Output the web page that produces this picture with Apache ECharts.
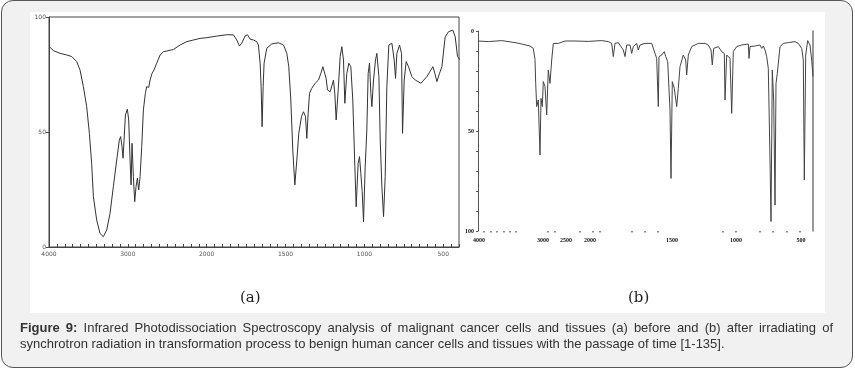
<!DOCTYPE html>
<html><head><meta charset="utf-8">
<script src="https://cdn.jsdelivr.net/npm/echarts@6/dist/echarts.min.js"></script>
<style>
html,body{margin:0;padding:0;width:855px;height:370px;overflow:hidden;background:#fff;}
#frame{position:absolute;left:1px;top:0;width:850px;height:366px;border:1.5px solid #555;border-radius:12px;background:#f1f1f1;}
#white{position:absolute;left:30px;top:12px;width:795px;height:301px;background:#fff;}
#chart{position:absolute;left:0;top:0;width:855px;height:370px;}
#cap{position:absolute;left:20px;top:320px;width:813px;font-family:"Liberation Sans",Arial,sans-serif;font-size:13px;line-height:16px;color:#333;}
.l1{text-align:justify;text-align-last:justify;white-space:nowrap;}
.l2{white-space:nowrap;}
</style></head>
<body>
<div id="frame"></div>
<div id="white"></div>
<div id="chart"></div>
<div id="cap">
<div class="l1"><b>Figure 9:</b> Infrared Photodissociation Spectroscopy analysis of malignant cancer cells and tissues (a) before and (b) after irradiating of</div>
<div class="l2">synchrotron radiation in transformation process to benign human cancer cells and tissues with the passage of time [1-135].</div>
</div>
<script>
// Panel (a): x in tick-step units (0 = first label), y = transmittance %
const A_XLABELS = ["4000", "3000", "2000", "1500", "1000", "500"];
const A_YLABELS = ["0", "50", "100"];
const A_POS = [0.004,0.055,0.14,0.224,0.288,0.351,0.393,0.436,0.478,0.512,0.541,0.563,0.605,0.647,0.689,0.732,0.774,0.816,0.859,0.892,0.909,0.926,0.939,0.952,0.969,0.994,1.011,1.028,1.041,1.053,1.070,1.087,1.104,1.121,1.138,1.155,1.176,1.197,1.222,1.239,1.265,1.282,1.307,1.332,1.366,1.409,1.451,1.493,1.578,1.662,1.747,1.832,1.916,2.001,2.128,2.255,2.339,2.382,2.415,2.445,2.487,2.517,2.551,2.593,2.635,2.656,2.678,2.690,2.703,2.716,2.728,2.762,2.826,2.910,2.974,3.016,3.041,3.067,3.092,3.118,3.143,3.168,3.202,3.228,3.253,3.270,3.287,3.304,3.333,3.376,3.418,3.448,3.473,3.498,3.515,3.532,3.566,3.591,3.608,3.625,3.642,3.668,3.693,3.714,3.735,3.752,3.777,3.803,3.828,3.853,3.879,3.896,3.921,3.938,3.955,3.972,3.989,4.010,4.031,4.048,4.065,4.082,4.095,4.116,4.141,4.158,4.184,4.201,4.222,4.243,4.264,4.285,4.310,4.349,4.378,4.395,4.412,4.446,4.471,4.484,4.505,4.530,4.560,4.602,4.645,4.717,4.793,4.869,4.894,4.920,4.953,4.983,5.025,5.067,5.122,5.152,5.181,5.215];
const A_T = [87.1,85.4,84.2,83.5,82.8,80.6,77,69.7,61,49.4,36.4,21.9,11.7,5.9,4.5,7.4,14.6,26.2,37.8,46.5,48,43.6,38.6,46.5,57.4,59.9,55.2,37.8,27,45.1,30.6,19.7,26.2,29.9,24.8,30.6,43.6,59.6,66.8,69.7,69.4,72.6,75.5,77,79.9,83.5,84.9,85.2,85.9,87.8,89.3,90,90.7,91,91.7,92.3,92.2,90,87.4,88.6,91.7,92.3,90.4,90,89.3,87.8,79.9,69.7,52.3,69.7,79.9,86.4,88.3,88.8,87.8,84.2,78.4,63.9,42.2,27,37.8,49.4,56.7,58.8,56.7,47.2,58.1,66.8,69,71.2,72.6,75.5,78.4,79.1,73.3,68.3,67.5,70.4,72.6,66.8,55.2,68.3,82.8,87.1,81.3,62.5,75.5,79.9,78.4,63.9,34.9,17.5,36.4,39.3,32,24.1,11,34.9,50.9,75.5,79.9,66.8,61,72.6,81.3,84.2,74.1,46.5,26.2,13.2,30.6,69.7,87.8,88.6,81.3,73.3,84.2,87.8,84.2,49.4,72.6,80.6,78.4,74.1,72.6,71.2,74.1,78.4,75.5,71.9,75.5,78.4,91.4,93.6,94.3,91.4,82.8,81.3];

// Panel (b): x in chart-scale units (0..335), y inverted 0..100
const B_XLABELS = ["4000", "3000", "2500", "2000", "1500", "1000", "500"];
const B_XLABEL_POS = [1, 65, 88, 112, 194, 258, 323];
const B_XDOTS = [6,13,19,26,32,38,70,77,102,115,122,154,167,180,245,258,282,295,309,322];
const B_YLABELS = ["0", "50", "100"];
const B_POS = [0.3,10.3,23.7,37,43.7,52,55.3,57,57.7,58.7,60.3,62,63,64.3,65.3,67,68.7,70.3,72,73.7,75.3,77,80.3,87,97,110.3,123.7,130.3,133.7,135.3,137,140.3,145.3,147,148.7,152,153.7,155.3,158.7,160.3,162,167,173.7,177,178.7,180.3,181,183.7,186.3,187.7,189.7,191,192,193,194.3,196.3,198.7,200.3,202,205.3,207.7,208.7,210.3,213.7,220.3,227,230.3,233,234.3,235.7,240.3,243.7,246.3,247,248.7,250.3,252,253.7,255.3,258.7,263.7,270.3,271,272,277,282,283.7,285.3,287,288.7,290.3,292,293,294.3,295.7,297,298,299.3,300.3,302,305.3,310.3,317,320.3,323.7,325.3,326.3,327.7,329.7,332,333.7,335];
const B_A = [5,5.3,4.8,5.8,6.5,7.5,8.7,14.2,26.2,37.8,34.5,62,33.7,37.8,25.3,27.8,42,19.5,26.2,14.5,6.2,5.3,6.2,5,5,5.2,4.8,5.3,6.2,12.8,6.2,5.8,9.5,12.8,7,7,11.2,7.8,6.2,9.5,7,6.2,6.2,11.2,13.7,37.8,12.8,12,10.3,12.8,15.3,14.5,39.5,73.7,25.3,28.7,37.8,28.7,17.8,12,14.5,22,12,7.8,6.2,6.2,7,9.5,17,8.7,7.8,10.3,11.2,34.5,12,11.2,13.7,41.2,10.3,7.8,7,6.5,13.7,7.8,7.5,7,8.7,7.5,9.5,12.8,18.7,64.5,95.3,19.5,34.5,87,26.2,21.2,20.3,7.8,6.2,5.8,5.3,6.2,8.7,14.5,74.5,12,4.8,7,14.5,22.8];

const zip = (xs, ys) => xs.map((x, i) => [x, ys[i]]);
const A_TICKS = [];
for (let i = 0; i <= 52; i++) A_TICKS.push(i / 10);

const lblA = {fontSize: 6, color: '#555', fontFamily: 'DejaVu Sans'};
const lblB = {fontSize: 6, color: '#111', fontWeight: 'bold', fontFamily: 'Liberation Serif'};

const chart = echarts.init(document.getElementById('chart'), null, {renderer: 'canvas'});
chart.setOption({
  animation: false,
  backgroundColor: 'transparent',
  grid: [
    {left: 49, top: 17, width: 410, height: 230, show: true, borderColor: '#444', borderWidth: 1, backgroundColor: 'transparent', containLabel: false},
    {left: 478, top: 31, width: 335, height: 200, show: false, containLabel: false}
  ],
  xAxis: [
    {gridIndex: 0, type: 'value', min: 0, max: 5.2, interval: 1, position: 'bottom',
     axisLine: {show: true, onZero: false, lineStyle: {color: '#444', width: 1}},
     axisTick: {show: true, inside: true, length: 3, customValues: A_TICKS, lineStyle: {color: '#444'}},
     axisLabel: Object.assign({margin: 4, customValues: [0,1,2,3,4,5],
       formatter: v => A_XLABELS[Math.round(v)] || ''}, lblA),
     splitLine: {show: false}},
    {gridIndex: 1, type: 'value', min: 0, max: 335, position: 'bottom',
     axisLine: {show: false, onZero: false},
     axisTick: {show: true, inside: false, length: 1.5, customValues: B_XDOTS, lineStyle: {color: '#666', width: 1.5}},
     axisLabel: Object.assign({margin: 6, customValues: B_XLABEL_POS,
       formatter: v => { const i = B_XLABEL_POS.indexOf(v); return i >= 0 ? B_XLABELS[i] : ''; }}, lblB),
     splitLine: {show: false}}
  ],
  yAxis: [
    {gridIndex: 0, type: 'value', min: 0, max: 100, interval: 50,
     axisLine: {show: true, lineStyle: {color: '#444'}},
     axisTick: {show: true, length: 3, lineStyle: {color: '#444'}},
     axisLabel: Object.assign({margin: 3, formatter: v => A_YLABELS[Math.round(v / 50)] || ''}, lblA),
     splitLine: {show: false}},
    {gridIndex: 1, type: 'value', min: 0, max: 100, interval: 10, inverse: true,
     axisLine: {show: true, onZero: false, lineStyle: {color: '#555', width: 1}},
     axisTick: {show: true, length: 2, lineStyle: {color: '#555'}},
     axisLabel: Object.assign({margin: 4, showMinLabel: true, showMaxLabel: true,
       formatter: v => (v % 50 === 0 ? B_YLABELS[v / 50] : '')}, lblB),
     splitLine: {show: false}},
    {gridIndex: 1, type: 'value', min: 0, max: 100, position: 'right', inverse: true,
     axisLine: {show: true, onZero: false, lineStyle: {color: '#777', width: 1.5}},
     axisTick: {show: false}, axisLabel: {show: false}, splitLine: {show: false}}
  ],
  series: [
    {type: 'line', xAxisIndex: 0, yAxisIndex: 0, data: zip(A_POS, A_T), showSymbol: false, symbol: 'none',
     lineStyle: {color: '#333', width: 1}, clip: true},
    {type: 'line', xAxisIndex: 1, yAxisIndex: 1, data: zip(B_POS, B_A), showSymbol: false, symbol: 'none',
     lineStyle: {color: '#444', width: 1}, clip: true}
  ],
  graphic: [
    {type: 'text', left: 240, top: 291, style: {text: '(a)', font: '15px "DejaVu Serif"', fill: '#222'}},
    {type: 'text', left: 628, top: 291, style: {text: '(b)', font: '15px "DejaVu Serif"', fill: '#222'}}
  ]
});
</script>
</body></html>
